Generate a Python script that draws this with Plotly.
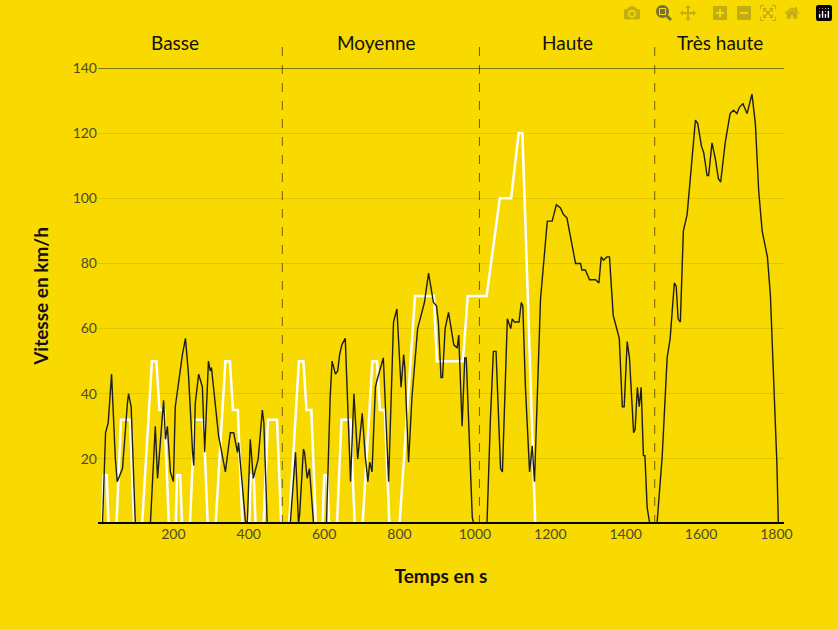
import plotly.graph_objects as go

# WLTP (black) time (s) and speed (km/h)
wltp_t = [0,12,20,27,36,46,51,65,78,81,88,99,139,152,158,174,179,184,192,200,205,224,232,240,251,254,258,267,277,283,293,298,301,320,338,351,360,370,373,391,396,404,412,425,436,440,449,
          510,524,532,535,545,548,555,561,572,606,616,621,630,636,641,647,656,670,679,689,701,709,716,721,727,736,740,757,771,784,793,804,811,814,824,833,848,866,877,890,898,903,910,914,921,930,944,953,957,966,973,977,993,997,
          1032,1041,1049,1056,1068,1073,1086,1095,1099,1105,1117,1123,1127,1134,1145,1152,1158,1174,1192,1205,1216,1227,1235,1244,1267,1280,1284,1293,1304,1320,1329,1335,1341,1350,1357,1367,1383,1391,1396,1404,1410,1421,1425,1431,1436,1441,1447,1451,1457,1464,
          1483,1497,1510,1518,1529,1534,1539,1545,1553,1563,1585,1591,1601,1607,1616,1620,1629,1638,1646,1652,1664,1677,1686,1695,1702,1711,1722,1735,1744,1753,1762,1776,1784,1801,1805]
wltp_v = [0,0,28,31,46,20,13,17,37,40,36,0,0,30,14,38,26,30,16,13,36,52,57,46,22,18,37,46,42,22,50,47,48,27,16,28,28,22,25,1,0,26,14,20,35,31,0,
          0,22,0,3,23,22,14,17,0,0,39,50,46,47,52,55,57,13,40,20,34,21,13,19,16,42,44,51,13,62,66,42,52,48,19,39,60,68,77,68,67,62,45,45,60,65,55,54,58,30,51,51,2,0,
          0,32,53,53,17,16,63,60,63,62,62,68,67,42,16,24,13,69,93,93,98,97,95,94,80,80,78,78,75,75,74,82,81,82,82,64,57,36,36,56,51,28,29,42,36,42,21,21,5,0,
          0,21,51,57,74,73,63,62,90,95,124,123,116,114,107,107,117,112,106,105,117,126,127,126,128,129,126,132,123,102,90,82,70,19,0]

# NEDC (white)
nedc_t = [0,11,15,23,28,49,61,85,96,117,143,155,163,176,188,
          206,210,218,223,244,256,280,291,312,338,350,358,371,383,
          401,405,413,418,439,451,475,486,507,533,545,553,566,578,
          596,600,608,613,634,646,670,681,702,728,740,748,761,773,
          800,841,891,899,968,981,1031,1066,1096,1116,1126,1160,1180]
nedc_v = [0,0,15,15,0,0,32,32,0,0,50,50,35,35,0,
          0,15,15,0,0,32,32,0,0,50,50,35,35,0,
          0,15,15,0,0,32,32,0,0,50,50,35,35,0,
          0,15,15,0,0,32,32,0,0,50,50,35,35,0,
          0,70,70,50,50,70,70,100,100,120,120,0,0]

phase_names = ["Basse", "Moyenne", "Haute", "Très haute"]
phase_centers = [205, 740, 1245, 1650]
phase_bounds = [489, 1012, 1477]

x_ticks = [200, 400, 600, 800, 1000, 1200, 1400, 1600, 1800]
y_ticks = [20, 40, 60, 80, 100, 120, 140]

BG = "#F8DA00"
FONT = "Lato"

fig = go.Figure()
fig.add_trace(go.Scatter(x=nedc_t, y=nedc_v, mode="lines",
                         line=dict(color="white", width=2.5), hoverinfo="skip"))
fig.add_trace(go.Scatter(x=wltp_t, y=wltp_v, mode="lines",
                         line=dict(color="#1e1e1e", width=1.4), hoverinfo="skip"))

shapes = []
for b in phase_bounds:
    shapes.append(dict(type="line", xref="x", yref="paper", x0=b, x1=b, y0=0, y1=1.065,
                       line=dict(color="#6b5f10", width=1, dash="dash")))
shapes.append(dict(type="line", xref="paper", yref="y", x0=0, x1=1, y0=140, y1=140,
                   line=dict(color="#111", width=1)))
shapes.append(dict(type="line", xref="paper", yref="y", x0=0, x1=1, y0=0, y1=0,
                   line=dict(color="#000", width=4)))
fig.update_layout(shapes=shapes)

for name, c in zip(phase_names, phase_centers):
    fig.add_annotation(x=c, y=1.055, xref="x", yref="paper", text=name, showarrow=False,
                       font=dict(family=FONT, size=19, color="#111"), yanchor="middle")

fig.update_layout(
    width=838, height=629, paper_bgcolor=BG, plot_bgcolor=BG,
    margin=dict(l=98, r=54, t=68, b=105), showlegend=False,
    font=dict(family=FONT, color="#4a4a30"),
    xaxis=dict(range=[0, 1820], tickvals=x_ticks, showgrid=False, zeroline=False,
               showline=False, tickfont=dict(size=14, color="#4d4a30"), ticks="",
               title=dict(text="<b>Temps en s</b>", font=dict(size=19, color="#111"), standoff=28)),
    yaxis=dict(range=[0, 140], tickvals=y_ticks, showgrid=True, gridcolor="#E3C600",
               gridwidth=1, zeroline=False, showline=False, ticks="",
               tickfont=dict(size=14, color="#4d4a30"),
               title=dict(text="<b>Vitesse en km/h</b>", font=dict(size=19, color="#111"), standoff=18)),
)

fig.write_html("out.html",
               post_script="document.body.style.margin='0';document.body.style.background='#F8DA00';")
